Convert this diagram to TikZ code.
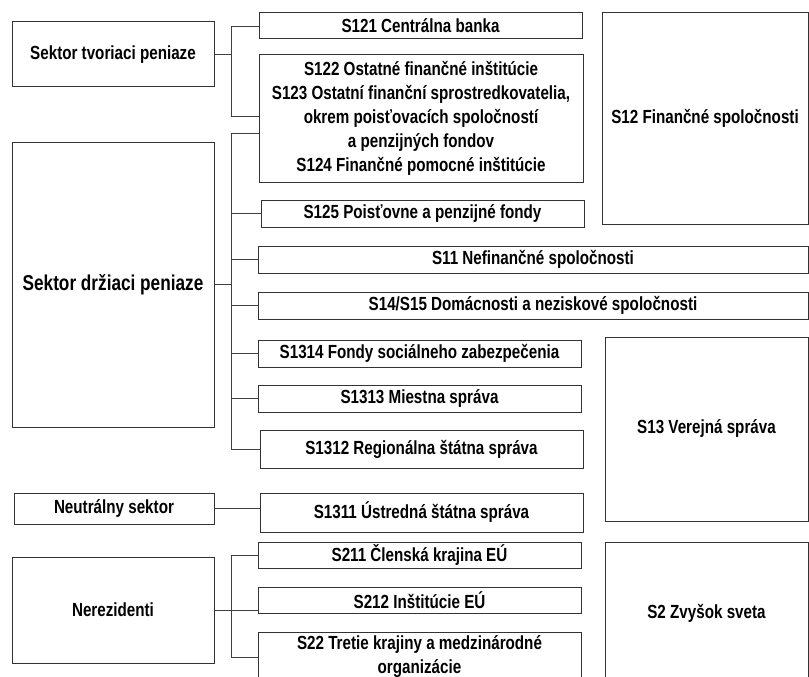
\documentclass[tikz,border=0pt]{standalone}
\usepackage{fontspec}
\setmainfont{Liberation Sans}[FakeStretch=0.8]

\begin{document}
\begin{tikzpicture}[x=1pt, y=-1pt,
    box/.style={draw=black!80, line width=1pt, inner sep=0pt, align=center,
      font=\bfseries\fontsize{19}{24}\selectfont},
    sector/.style={box},
    link/.style={draw=black!75, line width=0.9pt}]
    \useasboundingbox (0,0) rectangle (809,677);
    \clip (0,0) rectangle (809,677);

    % --- sectors on the left ---
    \node[sector, minimum width=202pt, minimum height=65pt]  (tvor)  at (113,54.5) {Sektor tvoriaci peniaze};
    \node[sector, minimum width=202pt, minimum height=285pt, font=\bfseries\fontsize{21.5}{24}\selectfont]
      (drz) at (113,284.5) {Sektor držiaci peniaze};
    \node[sector, minimum width=200pt, minimum height=31pt]  (neut)  at (114,508.5) {Neutrálny sektor};
    \node[sector, minimum width=202pt, minimum height=106pt] (nerez) at (113,610) {Nerezidenti};

    % --- subsectors: (name, centre x, centre y, width, height, text) ---
    \foreach \n/\x/\y/\w/\h/\t in {%
      s121/420.5/26/323/26/{S121 Centrálna banka},
      s122/421/118.5/324/127/{S122 Ostatné finančné inštitúcie\\S123 Ostatní finanční sprostredkovatelia,\\okrem poisťovacích spoločností\\a penzijných fondov\\S124 Finančné pomocné inštitúcie},
      s125/422.5/213.5/323/27/{S125 Poisťovne a penzijné fondy},
      s11/533/259.5/550/27/{S11 Nefinančné spoločnosti},
      s14/533/305.5/550/27/{S14/S15 Domácnosti a neziskové spoločnosti},
      s1314/419.5/353.5/323/27/{S1314 Fondy sociálneho zabezpečenia},
      s1313/419.5/398.5/323/27/{S1313 Miestna správa},
      s1312/421.5/449/323/38/{S1312 Regionálna štátna správa},
      s1311/421.5/512.5/323/39/{S1311 Ústredná štátna správa},
      s211/419.5/555/323/26/{S211 Členská krajina EÚ},
      s212/419.5/600/323/26/{S212 Inštitúcie EÚ},
      s22/419.5/657/323/50/{S22 Tretie krajiny a medzinárodné\\organizácie},
      s12/705/118.5/206/211/{S12 Finančné spoločnosti},
      s13/706.5/429/203/184/{S13 Verejná správa},
      s2/706.5/613/203/142/{S2 Zvyšok sveta}}{
      \node[box, minimum width=\w pt, minimum height=\h pt] (\n) at (\x,\y) {\t};
    }

    % --- connectors, all trees branch at x = 231 ---
    \coordinate (jx) at (231,0);
    \draw[link] (tvor.east) -- (tvor.east -| jx);
    \draw[link] (s121.west) -- (s121.west -| jx) -- ([yshift=2.5pt]s122.west -| jx)
      -- ([yshift=2.5pt]s122.west);

    \draw[link] (drz.east) -- (drz.east -| jx);
    \draw[link] ([yshift=-14.5pt]s122.west) -- ([yshift=-14.5pt]s122.west -| jx) |- (s1312.west);
    \foreach \n in {s125,s11,s14,s1314,s1313}
      \draw[link] (\n.west) -- (\n.west -| jx);

    \draw[link] (neut.east) -- (neut.east -| s1311.west);

    \draw[link] (nerez.east) -- (nerez.east -| s212.west);
    \draw[link] (s211.west) -- (s211.west -| jx) |- (s22.west);
  \end{tikzpicture}
\end{document}
